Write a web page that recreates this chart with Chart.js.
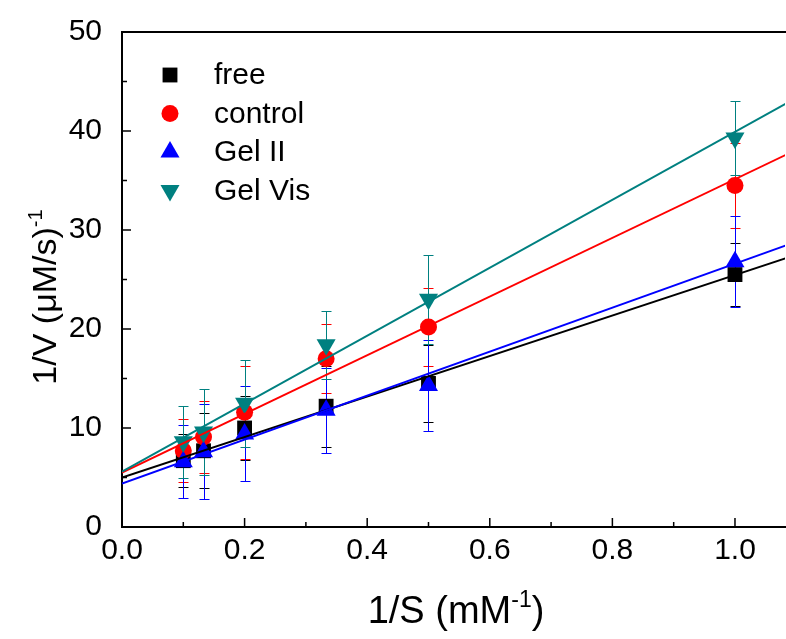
<!DOCTYPE html>
<html>
<head>
<meta charset="utf-8">
<script src="https://cdn.jsdelivr.net/npm/chart.js@4/dist/chart.umd.min.js"></script>
<style>
  html, body { margin: 0; padding: 0; background: #fff; }
  #wrap { width: 786px; height: 639px; }
</style>
</head>
<body>
<div id="wrap"><canvas id="chart" width="786" height="639"></canvas></div>
<script>
// 1/S values (mM^-1)
const xValues = [0.1, 0.133, 0.2, 0.333, 0.5, 1.0];

// 1/V values and error bars
const freeValues = [6.7, 7.7, 10.0, 12.2, 14.5, 25.5];
const freeErrors = [2.7, 3.8, 3.2, 4.1, 3.9, 3.2];
const controlValues = [7.7, 9.1, 11.6, 17.0, 20.2, 34.5];
const controlErrors = [3.2, 3.6, 4.7, 3.5, 3.9, 4.3];
const gel2Values = [6.6, 7.6, 9.4, 11.8, 14.3, 26.8];
const gel2Errors = [3.7, 4.8, 4.8, 4.3, 4.6, 4.6];
const gelVisValues = [8.6, 9.6, 12.5, 18.4, 23.0, 39.3];
const gelVisErrors = [3.6, 4.3, 4.4, 3.4, 4.5, 3.7];

// linear fit lines: ends at x = 0 and past the right edge
const fitX = [0, 1.09];
const freeFit = [5.0, 27.3];
const controlFit = [5.5, 37.8];
const gel2Fit = [4.4, 28.6];
const gelVisFit = [5.6, 43.0];

const xTicks = [0, 0.2, 0.4, 0.6, 0.8, 1.0];
const yTicks = [0, 10, 20, 30, 40, 50];

const FONT = "'Liberation Sans', Arial, Helvetica, sans-serif";

const toPoints = (xs, ys) => xs.map((x, i) => ({ x, y: ys[i] }));

const series = [
  { label: 'free', values: freeValues, errors: freeErrors, fit: freeFit, color: '#000000', style: 'rect', radius: 10.5, rotation: 0, order: 4 },
  { label: 'control', values: controlValues, errors: controlErrors, fit: controlFit, color: '#ff0000', style: 'circle', radius: 8.5, rotation: 0, order: 3 },
  { label: 'Gel II', values: gel2Values, errors: gel2Errors, fit: gel2Fit, color: '#0000ff', style: 'triangle', radius: 11, rotation: 0, order: 2 },
  { label: 'Gel Vis', values: gelVisValues, errors: gelVisErrors, fit: gelVisFit, color: '#008080', style: 'triangle', radius: 11, rotation: 180, order: 1 },
];

const datasets = [];
series.forEach((s) => {
  datasets.push({
    label: s.label,
    data: toPoints(xValues, s.values),
    errors: s.errors,
    showLine: false,
    pointStyle: s.style,
    pointRotation: s.rotation,
    pointRadius: s.radius,
    pointBackgroundColor: s.color,
    pointBorderColor: s.color,
    pointBorderWidth: 0,
    order: s.order + 4,
  });
});
series.forEach((s) => {
  datasets.push({
    label: s.label + ' fit',
    type: 'line',
    data: toPoints(fitX, s.fit),
    borderColor: s.color,
    borderWidth: 2,
    pointRadius: 0,
    fill: false,
    order: s.order,
  });
});

const errorBars = {
  id: 'errorBars',
  beforeDatasetsDraw(chart) {
    const { ctx, scales } = chart;
    const cap = 5;
    ctx.save();
    ctx.lineWidth = 1;
    chart.data.datasets.forEach((ds) => {
      if (!ds.errors) return;
      ctx.strokeStyle = ds.pointBackgroundColor;
      ds.data.forEach((p, i) => {
        const px = Math.round(scales.x.getPixelForValue(p.x)) + 0.5;
        const top = Math.round(scales.y.getPixelForValue(p.y + ds.errors[i])) + 0.5;
        const bot = Math.round(scales.y.getPixelForValue(p.y - ds.errors[i])) + 0.5;
        ctx.beginPath();
        ctx.moveTo(px, top); ctx.lineTo(px, bot);
        ctx.moveTo(px - cap, top); ctx.lineTo(px + cap, top);
        ctx.moveTo(px - cap, bot); ctx.lineTo(px + cap, bot);
        ctx.stroke();
      });
    });
    ctx.restore();
  },
};

const frame = {
  id: 'frame',
  afterDraw(chart) {
    const { ctx, chartArea: a, scales } = chart;
    ctx.save();
    ctx.strokeStyle = '#000';
    ctx.lineWidth = 2;
    // top border
    ctx.beginPath();
    ctx.moveTo(a.left - 1, a.top);
    ctx.lineTo(a.right + 1, a.top);
    ctx.stroke();

    // inward ticks, major and minor
    ctx.lineWidth = 1.5;
    ctx.beginPath();
    const xs = scales.x.ticks.map((t) => t.value);
    xs.forEach((v, i) => {
      const px = scales.x.getPixelForValue(v);
      ctx.moveTo(px, a.bottom); ctx.lineTo(px, a.bottom - 9);
      const next = i < xs.length - 1 ? xs[i + 1] : v + (v - xs[i - 1]);
      const mx = scales.x.getPixelForValue((v + next) / 2);
      if (mx < a.right) { ctx.moveTo(mx, a.bottom); ctx.lineTo(mx, a.bottom - 5); }
    });
    const ys = scales.y.ticks.map((t) => t.value);
    ys.forEach((v, i) => {
      const py = scales.y.getPixelForValue(v);
      ctx.moveTo(a.left, py); ctx.lineTo(a.left + 9, py);
      if (i < ys.length - 1) {
        const my = scales.y.getPixelForValue((v + ys[i + 1]) / 2);
        ctx.moveTo(a.left, my); ctx.lineTo(a.left + 5, my);
      }
    });
    ctx.stroke();

    // x tick labels
    ctx.fillStyle = '#000';
    ctx.font = '30px ' + FONT;
    ctx.textAlign = 'center';
    ctx.textBaseline = 'top';
    xs.forEach((v) => {
      ctx.fillText(v.toFixed(1), scales.x.getPixelForValue(v), a.bottom + 9);
    });

    // legend
    const helpers = Chart.helpers;
    ctx.textBaseline = 'middle';
    ctx.textAlign = 'left';
    series.forEach((s, i) => {
      const y = 75 + i * 38.5;
      ctx.fillStyle = s.color;
      ctx.strokeStyle = s.color;
      helpers.drawPoint(ctx, { pointStyle: s.style, rotation: s.rotation, radius: s.radius, borderWidth: 0 }, 170, y);
      ctx.fillStyle = '#000';
      ctx.fillText(s.label, 214, y + 1);
    });

    // axis titles with superscripts
    const drawTitle = (parts, cx, cy, rotate, size) => {
      const supSize = Math.round(size * 0.6);
      ctx.save();
      ctx.translate(cx, cy);
      if (rotate) ctx.rotate(-Math.PI / 2);
      ctx.textBaseline = 'alphabetic';
      ctx.textAlign = 'left';
      ctx.fillStyle = '#000';
      let width = 0;
      parts.forEach((p) => {
        ctx.font = (p.sup ? supSize : size) + 'px ' + FONT;
        width += ctx.measureText(p.text).width;
      });
      let x = -width / 2;
      parts.forEach((p) => {
        ctx.font = (p.sup ? supSize : size) + 'px ' + FONT;
        ctx.fillText(p.text, x, p.sup ? -size * 0.42 : 0);
        x += ctx.measureText(p.text).width;
      });
      ctx.restore();
    };
    drawTitle([{ text: '1/S (mM' }, { text: '-1', sup: true }, { text: ')' }], 456, 623, false, 38);
    drawTitle([{ text: '1/V (\u03bcM/s)' }, { text: '-1', sup: true }], 56, 297, true, 34);
    ctx.restore();
  },
};

new Chart(document.getElementById('chart'), {
  type: 'scatter',
  data: { datasets },
  options: {
    responsive: false,
    animation: false,
    layout: { autoPadding: false, padding: { top: 32, right: 1, left: 0, bottom: 0 } },
    plugins: {
      legend: { display: false },
      tooltip: { enabled: false },
    },
    scales: {
      x: {
        type: 'linear',
        min: 0,
        max: 1.0816,
        afterBuildTicks: (scale) => { scale.ticks = xTicks.map((value) => ({ value })); },
        afterFit: (scale) => { scale.height = 112; },
        grid: { display: false },
        border: { display: true, color: '#000', width: 2 },
        ticks: { display: false },
      },
      y: {
        type: 'linear',
        min: 0,
        max: 50,
        afterBuildTicks: (scale) => { scale.ticks = yTicks.map((value) => ({ value })); },
        afterFit: (scale) => { scale.width = 122; },
        grid: { display: false },
        border: { display: true, color: '#000', width: 2 },
        ticks: {
          color: '#000',
          padding: 12,
          font: { family: FONT, size: 30 },
          callback: (value) => String(value),
        },
      },
    },
  },
  plugins: [errorBars, frame],
});
</script>
</body>
</html>
